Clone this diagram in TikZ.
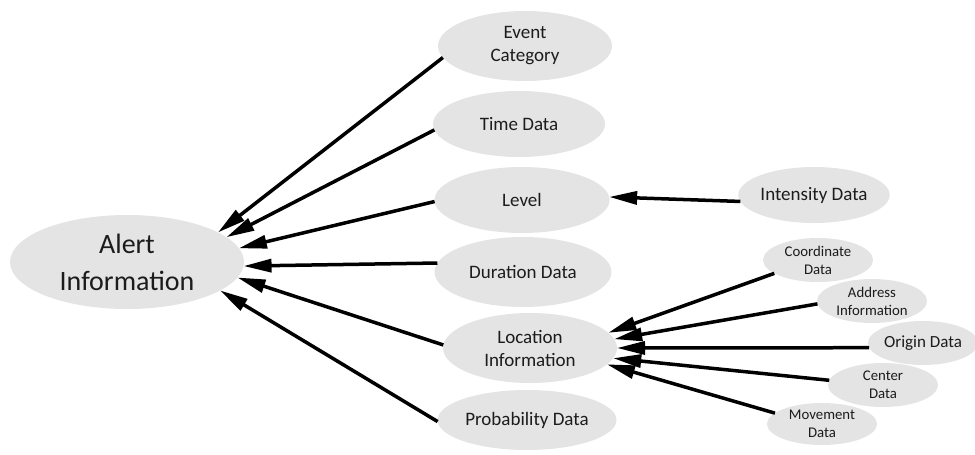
\documentclass[tikz,border=0pt]{standalone}
\usepackage{fontspec}
\setmainfont{Carlito}
\usetikzlibrary{shapes.geometric,arrows.meta}
\definecolor{bubble}{HTML}{E4E4E4}
\definecolor{ink}{HTML}{1C1C1C}
\begin{document}
\begin{tikzpicture}[x=0.5pt,y=-0.5pt,
  bub/.style={ellipse, fill=bubble, inner xsep=0pt, inner ysep=-2pt, outer sep=0pt, align=center, text=ink},
  big/.style={bub, font=\fontsize{14}{18.5}\selectfont},
  mid/.style={bub, font=\fontsize{9.5}{11.5}\selectfont},
  sml/.style={bub, font=\fontsize{7.4}{9}\selectfont},
  link/.style={line width=1.75pt, -{Triangle[length=14pt,width=6.5pt]}}]
\useasboundingbox (0,0) rectangle (975,455);

% central concept
\node[big, minimum width=117pt, minimum height=47pt] (alert) at (127,262) {Alert\\Information};

% first level
\node[mid, minimum width=87pt,   minimum height=35pt] (event)    at (525,46)  {Event\\Category};
\node[mid, minimum width=86pt,   minimum height=33pt] (time)     at (519,124) {Time Data};
\node[mid, minimum width=87.5pt, minimum height=33pt] (level)    at (522,200) {Level};
\node[mid, minimum width=88.5pt, minimum height=35pt] (duration) at (523,272) {Duration Data};
\node[mid, minimum width=87pt,   minimum height=35pt] (location) at (530,348) {Location\\Information};
\node[mid, minimum width=89.5pt, minimum height=30pt] (prob)     at (527,420) {Probability Data};

% second level
\node[mid, minimum width=69pt, minimum height=28pt] (intensity) at (814,195) {Intensity Data};
\node[sml, minimum width=55pt, minimum height=22pt] (coord)    at (818,260) {Coordinate\\Data};
\node[sml, minimum width=55pt, minimum height=22pt] (address)  at (872,301) {Address\\Information};
\node[bub, font=\fontsize{8.5}{10}\selectfont, minimum width=52pt, minimum height=22pt] (origin) at (923,343) {Origin Data};
\node[sml, minimum width=55pt, minimum height=22pt] (center)   at (883,385) {Center\\Data};
\node[sml, minimum width=55pt, minimum height=21pt] (movement) at (822,424) {Movement\\Data};

% connectors into the central concept
\draw[link] (event.188)    -- (alert.18);
\draw[link] (time.184)     -- (alert.14);
\draw[link] (level.181)    -- (alert.7.6);
\draw[link] (duration.174) -- (alert.358.5);
\draw[link] (location.178) -- (alert.352);
\draw[link] (prob.181)     -- (alert.343.6);

% second-level connectors
\draw[link] (intensity.185) -- (level.2);
\draw[link] (coord.197)     -- (location.11);
\draw[link] (address.183)   -- (location.6.6);
\draw[link] (origin.185)    -- (location.0.6);
\draw[link] (center.175)    -- (location.353.4);
\draw[link] (movement.167)  -- (location.348);
\end{tikzpicture}
\end{document}
